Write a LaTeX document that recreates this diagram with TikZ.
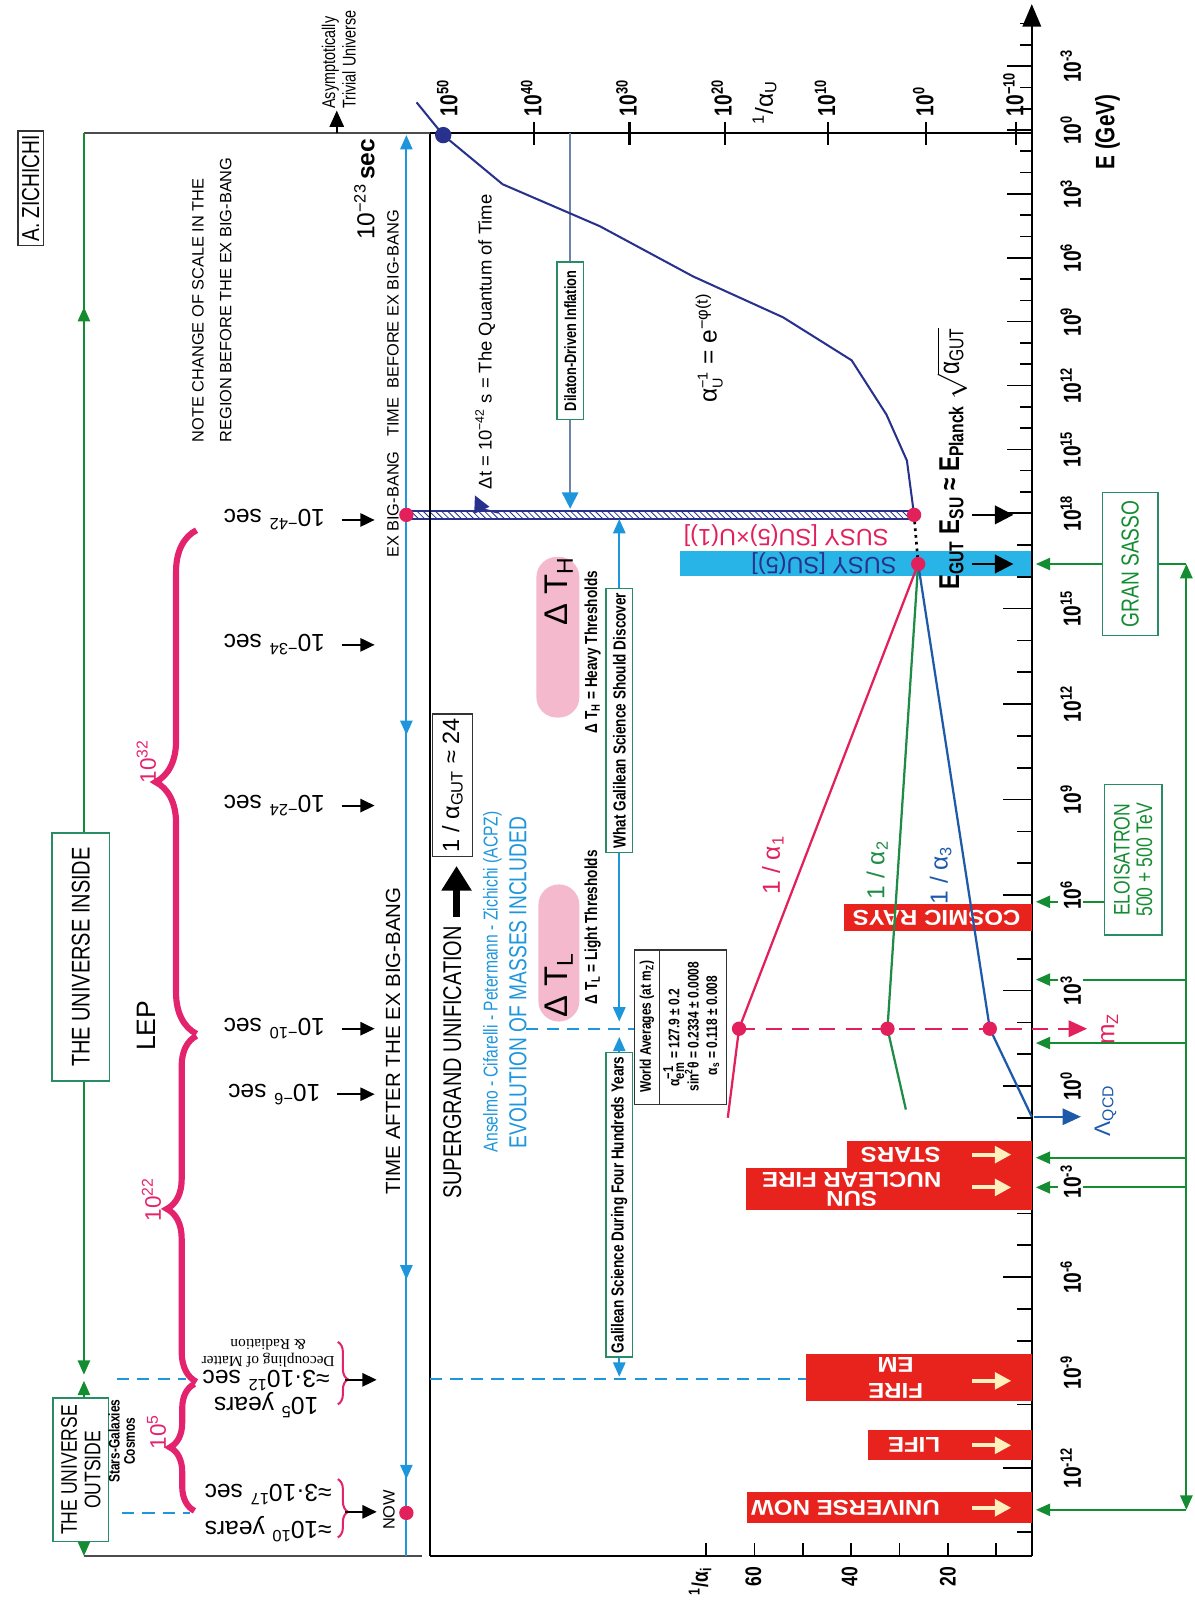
\documentclass[tikz,border=0pt]{standalone}
\usepackage{fontspec}
\setmainfont{Liberation Sans}
\newfontfamily\cond{Liberation Sans}[FakeStretch=0.78]
\newfontfamily\widef{Liberation Sans}[FakeStretch=1.12]
\newfontfamily\romn{Liberation Serif}
\usetikzlibrary{arrows.meta,decorations.pathreplacing,patterns}
\newcommand\fsz[1]{\fontsize{#1}{#1}\selectfont}
\newcommand\fszb[2]{\fontsize{#1}{#2}\selectfont}
\newcommand\supb[2]{\ensuremath{^{\mbox{\scriptsize#1}}_{\mbox{\scriptsize#2}}}}
\definecolor{magb}{RGB}{228,35,110}
\definecolor{crim}{RGB}{226,32,92}
\definecolor{tblue}{RGB}{30,150,220}
\definecolor{navyc}{RGB}{40,50,140}
\definecolor{grn}{RGB}{20,140,50}
\definecolor{teal2}{RGB}{40,140,100}
\definecolor{barred}{RGB}{232,35,30}
\definecolor{cream}{RGB}{255,240,190}
\definecolor{cyanbar}{RGB}{40,180,230}
\definecolor{pinkpill}{RGB}{245,185,205}
\definecolor{slateb}{RGB}{110,130,170}
\definecolor{a2g}{RGB}{30,140,70}
\definecolor{a3b}{RGB}{30,90,170}
\tikzset{
  r90/.style={rotate=90,inner sep=1pt},
  r180/.style={rotate=180,inner sep=1pt},
  gbox/.style={draw=teal2,line width=0.8pt,fill=white,rotate=90,inner sep=2pt},
  bbox/.style={draw=black!80,line width=0.7pt,fill=white,rotate=90,inner sep=2pt},
  rdot/.style={circle,fill=crim,minimum size=7pt,inner sep=0pt},
  gline/.style={draw=grn,line width=0.9pt},
  tline/.style={draw=tblue,line width=0.9pt},
  arrtip/.style={-{Triangle[length=7pt,width=6pt]}},
  bdash/.style={draw=tblue,line width=1.1pt,dash pattern=on 6pt off 4pt},
  blab/.style={rotate=180,font=\fsz{12},inner sep=1pt},
  tarr/.style={-{Triangle[length=7pt,width=6.5pt]},line width=1pt,shorten <=7pt},
  pbrace/.style={decorate,decoration={brace,amplitude=#1},draw=magb,line width=3pt},
  axl/.style={rotate=90,font=\cond\bfseries\fsz{12},inner sep=1pt},
  barl/.style={rotate=180,font=\widef\bfseries\fszb{10.5}{11},text=white,align=center,inner sep=0pt},
  carr/.style={draw=cream,line width=2pt,-{Triangle[length=8pt,width=8pt]}}
}
\begin{document}
\begin{tikzpicture}[x=0.5pt,y=-0.5pt]
\useasboundingbox (0,0) rectangle (1167,1568);

\fill[pinkpill,rounded corners=10pt] (524,544) rectangle (566,701);
\fill[pinkpill,rounded corners=10pt] (526,864) rectangle (566,998);
\fill[cyanbar] (664,538) rectangle (1008,563);
\fill[pattern=north west lines,pattern color=navyc] (397,499) rectangle (893,507);
\draw[navyc,line width=0.8pt] (397,499) -- (893,499) (397,507) -- (893,507);

\foreach \d in {-5,...,18}{
  \pgfmathsetmacro\tl{mod(\d,3)==0 ? 24 : 12}
  \draw[line width=0.8pt] (1008,{127+20.8*\d}) -- ++(-\tl,0);
}
\foreach \d in {-14,...,17}{
  \pgfmathsetmacro\tl{mod(\d,3)==0 ? 28 : 14}
  \draw[line width=0.8pt] (1008,{1061-31.1*\d}) -- ++(-\tl,0);
}
\foreach \x/\e in {522/40,615/30,708/20,809/10,905/0,993/−10}{
  \draw[line width=1pt] (\x,119) -- (\x,142);
  \node[axl,anchor=west] (au\x) at (\x-3,116) {10\textsuperscript{\e}};
}
\node[axl,anchor=west] (au50) at (437,116) {10\textsuperscript{50}};
\node[r90,font=\fsz{12}] (auu) at (747,100) {\textsuperscript{1}/α\textsubscript{U}};
\foreach \k in {0,...,6}
  \draw[line width=0.8pt] ({690+47.2*\k},1520) -- ++(0,-13);

\draw[line width=1.1pt] (420,1520) -- (420,130) -- (1008,130);
\draw[line width=1.1pt] (420,1520) -- (1008,1520);
\draw[line width=1.1pt,-{Triangle[length=11pt,width=9pt]}] (1008,1520) -- (1008,4);
\draw[black!70,line width=0.8pt] (82,130) -- (420,130);
\draw[black!70,line width=0.8pt] (82,1520) -- (412,1520);

\fill[barred] (825,883) rectangle (1008,910);
\node[barl] (cr) at (915,897) {COSMIC RAYS};
\fill[barred] (827,1115) rectangle (1008,1141);
\node[barl] (st) at (880,1128) {STARS};
\fill[barred] (729,1141) rectangle (1008,1182);
\node[barl,font=\widef\bfseries\fszb{10.5}{9.5}] (sun) at (832,1162) {SUN\\NUCLEAR FIRE};
\fill[barred] (787,1323) rectangle (1008,1369);
\node[barl,font=\widef\bfseries\fszb{10.5}{12.5}] (fire) at (875,1346) {FIRE\\EM};
\fill[barred] (848,1397) rectangle (1008,1426);
\node[barl] (life) at (893,1412) {LIFE};
\fill[barred] (730,1458) rectangle (1008,1488);
\node[barl] (unow) at (826,1473) {UNIVERSE NOW};
\foreach \n/\yy in {st/1128,sun/1160,fire/1349,life/1412,unow/1473}{
  \coordinate (\n-a) at (950,\yy);
  \coordinate (\n-b) at (988,\yy);
  \draw[carr] (\n-a) -- (\n-b);
}

\draw[gline,arrtip] (82,130) -- (82,1343);
\draw[gline,arrtip] (82,320) -- (82,300);
\draw[gline,{Triangle[length=7pt,width=6pt]}-{Triangle[length=7pt,width=6pt]}] (82,1349) -- (82,1520);
\node[gbox,font=\cond\fsz{12.5},minimum width=121pt,minimum height=28pt] (inside) at (79,935) {THE UNIVERSE INSIDE};
\node[gbox,font=\cond\fszb{11}{11.5},align=center,minimum width=70pt,minimum height=27pt] (outside) at (79,1436) {THE UNIVERSE\\OUTSIDE};
\node[r90,font=\cond\bfseries\fszb{7.5}{7.5},align=center] (stars) at (119,1408) {Stars-Galaxies\\Cosmos};
\node[bbox,font=\cond\fsz{12},minimum width=56pt,minimum height=12.5pt] (zich) at (30,184) {A. ZICHICHI};
\node[r90,font=\cond\fszb{9}{10},align=left] (asym) at (331,58) {Asymptotically\\Trivial Universe};
\coordinate (asy-b) at (329,130);
\coordinate (asy-t) at (329,108);
\draw[line width=0.9pt,-{Triangle[length=8pt,width=7pt]}] (asy-b) -- (asy-t);
\node[r90,font=\fszb{8}{13.5},align=left] (note) at (207,293) {NOTE CHANGE OF SCALE IN THE\\REGION BEFORE THE EX BIG-BANG};
\node[r90,font=\fsz{12}] (t23) at (356,185) {10\textsuperscript{−23}\,\textbf{sec}};
\node[r90,font=\fsz{8}] (tbefore) at (384,316) {TIME\ \ BEFORE EX BIG-BANG};
\node[r90,font=\fsz{8}] (exbb) at (384,493) {EX BIG-BANG};
\node[r90,font=\fsz{10}] (tafter) at (384,1017) {TIME AFTER THE EX BIG-BANG};
\node[r90,font=\fsz{8}] (nowl) at (380,1475) {NOW};

\draw[tline,arrtip] (397,1520) -- (397,132);
\foreach \yy in {718,1250,1445}
  \draw[tline,arrtip] (397,\yy-14) -- (397,\yy);

\foreach \n/\e/\yy in {a/−42/508,b/−34/630,c/−24/787,d/−10/1005,e/−6/1069}{
  \node[blab] (t\n) at (268,\yy) {10\textsuperscript{\e} sec};
  \coordinate (t\n-end) at (366,\yy);
  \draw[tarr] (t\n.west |- t\n-end) -- (t\n-end);
}
\node[blab,align=center,font=\fszb{12}{13}] (y5) at (260,1362) {10\textsuperscript{5} years\\≈3·10\textsuperscript{12} sec};
\node[rotate=180,font=\romn\fszb{7.5}{8},align=center] (decm) at (262,1322) {Decoupling of Matter\\\& Radiation};
\node[blab,align=center,font=\fszb{12}{18}] (y10) at (262,1478) {≈10\textsuperscript{10} years\\≈3·10\textsuperscript{17} sec};
\draw[decorate,decoration={brace,amplitude=5pt,aspect=0.6},draw=magb,line width=1pt] (330,1311) -- (330,1372);
\draw[decorate,decoration={brace,amplitude=5pt,aspect=0.56},draw=magb,line width=1pt] (330,1445) -- (330,1502);
\coordinate (y5-a) at (337,1348);
\coordinate (y5-b) at (368,1348);
\coordinate (y10-a) at (337,1477);
\coordinate (y10-b) at (368,1477);
\draw[line width=1pt,-{Triangle[length=7pt,width=6.5pt]}] (y5-a) -- (y5-b);
\draw[line width=1pt,-{Triangle[length=7pt,width=6.5pt]}] (y10-a) -- (y10-b);

\draw[pbrace=20pt] (192,1010) -- (192,518);
\draw[pbrace=14.5pt] (192,1350) -- (192,1012);
\draw[pbrace=12pt] (190,1476) -- (190,1352);
\node[r90,text=magb,font=\fsz{11}] (b32) at (143,744) {10\textsuperscript{32}};
\node[r90,text=magb,font=\fsz{11}] (b22) at (148,1172) {10\textsuperscript{22}};
\node[r90,text=magb,font=\fsz{11}] (b5) at (153,1399) {10\textsuperscript{5}};
\node[r90,font=\fsz{13}] (lep) at (143,1002) {LEP};

\draw[bdash] (114,1347) -- (182,1347);
\draw[bdash] (119,1478) -- (186,1478);
\draw[bdash] (420,1347) -- (787,1347);
\draw[bdash] (514,1005) -- (620,1005);

\node[gbox,font=\cond\bfseries\fsz{8},minimum width=77pt,minimum height=13pt] (dil) at (557,333) {Dilaton-Driven Inflation};
\coordinate (dil-t) at (557,130);
\coordinate (dil-b) at (557,497);
\draw[slateb,line width=0.8pt] (dil-t) -- (dil);
\draw[slateb,line width=0.8pt,-{Triangle[length=8pt,width=8pt,color=tblue]}] (dil) -- (dil-b);

\node[gbox,font=\cond\bfseries\fsz{8.5},minimum width=124pt,minimum height=13pt] (gsd) at (605,704) {What Galilean Science Should Discover};
\node[gbox,font=\cond\bfseries\fsz{8.5},minimum width=139pt,minimum height=13pt] (gfh) at (605,1177) {Galilean Science During Four Hundreds Years};
\coordinate (gsd-t) at (605,507);
\coordinate (gsd-b) at (605,998);
\coordinate (gfh-t) at (605,1013);
\coordinate (gfh-b) at (605,1345);
\draw[tline,arrtip] (gsd) -- (gsd-t);
\draw[tline,arrtip] (gsd) -- (gsd-b);
\draw[tline,arrtip] (gfh) -- (gfh-t);
\draw[tline,arrtip] (gfh) -- (gfh-b);

\node[r90,font=\fsz{16}] (dth) at (546,578) {Δ T\textsubscript{H}};
\node[r90,font=\fsz{16}] (dtl) at (546,962) {Δ T\textsubscript{L}};
\node[r90,font=\cond\bfseries\fsz{8.5}] (dthx) at (579,637) {Δ T\textsubscript{H} = Heavy Thresholds};
\node[r90,font=\cond\bfseries\fsz{8.5}] (dtlx) at (579,906) {Δ T\textsubscript{L} = Light Thresholds};

\node[r90,font=\cond\fsz{12.5}] (sgu) at (442,1038) {SUPERGRAND UNIFICATION};
\node[bbox,font=\fsz{11.5},minimum width=69pt,minimum height=19.5pt] (agut) at (442,767) {1 / α\textsubscript{GUT} ≈ 24};
\coordinate (sg-a) at (446,896);
\coordinate (sg-b) at (446,846);
\draw[line width=3pt,-{Triangle[length=12pt,width=14pt]}] (sg-a) -- (sg-b);
\node[r90,text=tblue,font=\cond\fsz{9.8}] (acpz) at (481,959) {Anselmo - Cifarelli - Petermann - Zichichi (ACPZ)};
\node[r90,text=tblue,font=\cond\fsz{12}] (evo) at (506,960) {EVOLUTION OF MASSES INCLUDED};

\draw[black!80,line width=0.6pt,fill=white] (620,928) rectangle (710,1079);
\draw[black!80,line width=0.6pt] (644,928) -- (644,1079);
\node[r90,font=\cond\bfseries\fsz{7.5}] (wah) at (632,1003) {World Averages (at m\textsubscript{Z})};
\node[r90,font=\cond\bfseries\fszb{7.5}{9}] (wav) at (677,1003) {\begin{tabular}{@{}r@{ = }l@{}}α\supb{−1}{em} & 127.9 ± 0.2\\sin\textsuperscript{2}θ & 0.2334 ± 0.0008\\α\textsubscript{s} & 0.118 ± 0.008\end{tabular}};

\node[r90,font=\fsz{9}] (dt) at (474,334) {Δt = 10\textsuperscript{−42} s = The Quantum of Time};
\coordinate (dt-s) at (487,501);
\coordinate (dt-e) at (464,484);
\draw[navyc,line width=0.8pt,-{Triangle[length=8pt,width=8pt]}] (dt-s) .. controls (470,497) .. (dt-e);
\node[r90,font=\fsz{12}] (aU) at (693,340) {α\supb{−1}{U} = e\textsuperscript{−φ(t)}};

\node[r180,text=crim,font=\fsz{11.5}] (susy1) at (768,523) {SUSY [SU(5)×U(1)]};
\node[r180,text=navyc,font=\fsz{11.5}] (susy2) at (805,551) {SUSY [SU(5)]};
\node[r90,font=\cond\bfseries\fsz{14}] (egut) at (930,448) {E\textsubscript{GUT} E\textsubscript{SU} ≈ E\textsubscript{Planck} $\sqrt{\mbox{\mdseries α\textsubscript{GUT}}}$};
\coordinate (esu-a) at (950,503);
\coordinate (esu-b) at (990,503);
\coordinate (eg-a) at (950,551);
\coordinate (eg-b) at (990,551);
\draw[line width=1.2pt,-{Triangle[length=9pt,width=9pt]}] (esu-a) -- (esu-b);
\draw[line width=1.2pt,-{Triangle[length=9pt,width=9pt]}] (eg-a) -- (eg-b);

\coordinate (bb) at (397,503);
\coordinate (now) at (397,1478);
\coordinate (su) at (893,503);
\coordinate (gut) at (897,551);
\coordinate (mz1) at (722,1005);
\coordinate (mz2) at (867,1005);
\coordinate (mz3) at (967,1005);
\coordinate (u50) at (433,132);
\coordinate (a1lo) at (711,1092);
\coordinate (a2lo) at (885,1084);
\coordinate (a3lo) at (1008,1091);
\coordinate (cv0) at (407,100);
\draw[navyc,line width=1pt] (cv0) -- (u50) -- (491,180) -- (586,221) -- (677,270) -- (765,310) -- (832,352) -- (866,405) -- (886,450) -- (su);
\draw[dotted,line width=1.3pt] (su) -- (gut);
\draw[crim,line width=1.1pt] (a1lo) -- (mz1) -- (gut);
\draw[a2g,line width=1.1pt] (a2lo) -- (mz2) -- (gut);
\draw[a3b,line width=1.1pt] (a3lo) -- (mz3) -- (gut);
\coordinate (mz-end) at (1062,1005);
\draw[crim,line width=1.1pt,dash pattern=on 8pt off 5pt,-{Triangle[length=9pt,width=8pt]}] (mz1) -- (mz-end);
\node[r90,text=crim,font=\fsz{12}] (mzl) at (1084,1005) {m\textsubscript{Z}};
\node[r90,text=crim,font=\fsz{12}] (l1) at (755,845) {1 / α\textsubscript{1}};
\node[r90,text=a2g,font=\fsz{12}] (l2) at (857,850) {1 / α\textsubscript{2}};
\node[r90,text=a3b,font=\fsz{12}] (l3) at (919,855) {1 / α\textsubscript{3}};

\coordinate (qcd-a) at (1010,1091);
\coordinate (qcd-b) at (1056,1091);
\draw[a3b,line width=1.2pt,-{Triangle[length=9pt,width=8pt]}] (qcd-a) -- (qcd-b);
\node[r90,text=a3b,font=\fsz{11}] (qcd) at (1080,1085) {Λ\textsubscript{QCD}};

\coordinate (gv-t) at (1159,551);
\coordinate (gv-b) at (1159,1475);
\draw[gline,{Triangle[length=7pt,width=6pt]}-{Triangle[length=7pt,width=6pt]}] (gv-b) -- (gv-t);
\node[gbox,text=grn,font=\cond\fsz{12},minimum width=70pt,minimum height=27pt] (gs) at (1104,551) {GRAN SASSO};
\coordinate (e-gs) at (1012,551);
\draw[gline,arrtip] (gs) -- (e-gs);
\draw[gline] (gs) -- (gv-t);
\node[gbox,text=grn,font=\cond\fszb{11}{11},align=center,minimum width=73.5pt,minimum height=28pt] (elo) at (1107,840) {ELOISATRON\\500 + 500 TeV};
\coordinate (elo-l) at (1079,881);
\coordinate (e-elo) at (1012,881);
\draw[gline,arrtip] (elo-l) -- (e-elo);
\foreach \n/\yy in {g1/957,g2/1019,g3/1131,g4/1160,g5/1475}{
  \coordinate (\n-r) at (1159,\yy);
  \coordinate (\n-l) at (1012,\yy);
  \draw[gline,arrtip] (\n-r) -- (\n-l);
}

\foreach \d in {-3,0,...,18}
  \node[axl,fill=white] (et\d) at (1046,{127+20.8*\d}) {10\textsuperscript{\d}};
\foreach \d in {15,12,...,-12}
  \node[axl,fill=white] (el\d) at (1046,{1061-31.1*\d}) {10\textsuperscript{\d}};
\node[r90,font=\cond\bfseries\fsz{13}] (egev) at (1082,129) {E (GeV)};
\node[r90,font=\cond\bfseries\fsz{11}] (ai) at (684,1545) {\textsuperscript{1}/α\textsubscript{i}};
\node[r90,font=\cond\bfseries\fsz{11}] (a60) at (736,1540) {60};
\node[r90,font=\cond\bfseries\fsz{11}] (a40) at (830,1540) {40};
\node[r90,font=\cond\bfseries\fsz{11}] (a20) at (926,1540) {20};

\node[rdot] (bbd) at (bb) {};
\node[rdot] (nowd) at (now) {};
\node[rdot] (sud) at (su) {};
\node[rdot] (gutd) at (gut) {};
\node[rdot] (mz1d) at (mz1) {};
\node[rdot] (mz2d) at (mz2) {};
\node[rdot] (mz3d) at (mz3) {};
\node[circle,fill=navyc,minimum size=8pt,inner sep=0pt] (u50d) at (u50) {};
\end{tikzpicture}
\end{document}
